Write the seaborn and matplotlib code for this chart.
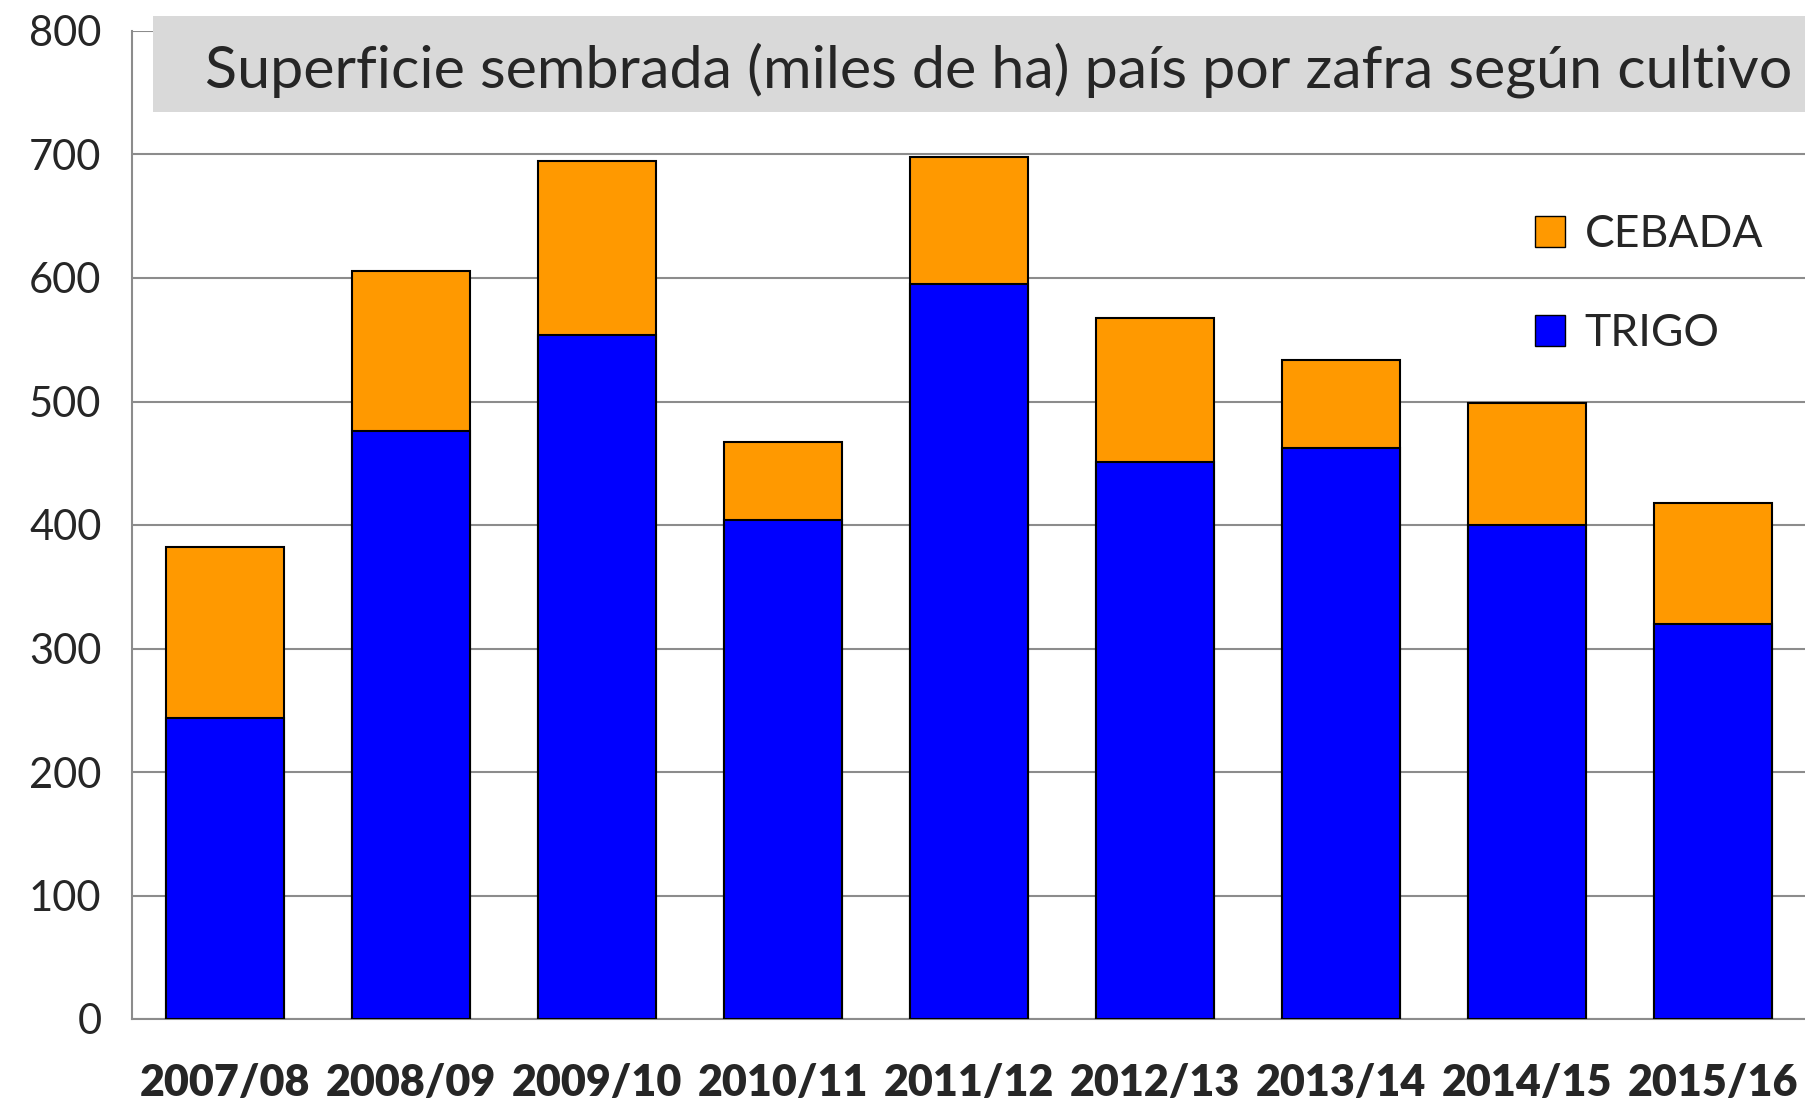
import numpy as np
import pandas as pd
import seaborn as sns
import matplotlib.pyplot as plt
from matplotlib.patches import Rectangle, Patch

zafras = ['2007/08', '2008/09', '2009/10', '2010/11', '2011/12',
          '2012/13', '2013/14', '2014/15', '2015/16']
trigo = [244, 476, 554, 404, 595, 451, 462, 400, 320]
cebada = [138, 130, 141, 63, 103, 117, 72, 99, 98]

df = pd.DataFrame({'zafra': zafras, 'TRIGO': trigo, 'CEBADA': cebada})
df['total'] = df['TRIGO'] + df['CEBADA']

sns.set_style('white')
plt.rcParams['font.family'] = ['Lato', 'DejaVu Sans']

fig = plt.figure(figsize=(18.06, 11.03), dpi=100)
ax = fig.add_axes([132/1806, 1-1019/1103, 1-132/1806, (1019-31)/1103])

orange = '#ff9900'
blue = '#0000ff'
sns.barplot(data=df, x='zafra', y='total', color=orange, width=0.63,
            saturation=1, edgecolor='black', linewidth=1.5, ax=ax, zorder=3)
sns.barplot(data=df, x='zafra', y='TRIGO', color=blue, width=0.63,
            saturation=1, edgecolor='black', linewidth=1.5, ax=ax, zorder=4)

ax.set_ylim(0, 800)
ax.set_xlim(-0.5, len(zafras) - 0.5)
ax.set_yticks(range(0, 801, 100))
ax.yaxis.grid(True, color='#8c8c8c', linewidth=1.5, zorder=0)
ax.set_axisbelow(True)
ax.set_xlabel('')
ax.set_ylabel('')

for s in ['top', 'right']:
    ax.spines[s].set_visible(False)
for s in ['left', 'bottom']:
    ax.spines[s].set_color('#8c8c8c')
    ax.spines[s].set_linewidth(1.5)

ax.tick_params(axis='y', direction='out', length=12, width=1.5, color='#8c8c8c',
               labelsize=30, pad=10)
ax.tick_params(axis='x', which='major', length=0, labelsize=31, pad=32)
ax.set_xticks(np.arange(-0.5, len(zafras) - 0.4, 1), minor=True)
ax.tick_params(axis='x', which='minor', direction='out', length=12, width=1.5,
               color='#8c8c8c')
for lab in ax.get_xticklabels():
    lab.set_fontweight('heavy')

# title box
fig.patches.append(Rectangle((153/1806, 1-112/1103), 1-153/1806, 96/1103,
                             transform=fig.transFigure, facecolor='#d9d9d9',
                             edgecolor='none', zorder=5))
fig.text(205/1806, 1-70/1103, 'Superficie sembrada (miles de ha) país por zafra según cultivo',
         fontsize=42.7, va='center', ha='left', zorder=6)

handles = [Patch(facecolor=orange, edgecolor='black', label='CEBADA'),
           Patch(facecolor=blue, edgecolor='black', label='TRIGO')]
leg = ax.legend(handles=handles, loc='upper left', bbox_to_anchor=(0.814, 0.855),
                frameon=False, fontsize=32, handlelength=0.68, handleheight=0.68,
                labelspacing=1.3, handletextpad=0.45)

fig.savefig('out.png', dpi=100)
